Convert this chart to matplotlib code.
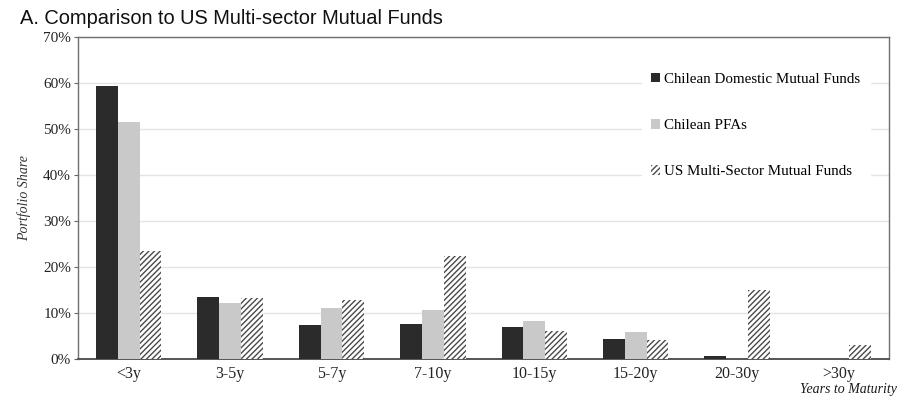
import matplotlib
matplotlib.use("Agg")
import matplotlib.pyplot as plt
import numpy as np

categories = ["<3y", "3-5y", "5-7y", "7-10y", "10-15y", "15-20y", "20-30y", ">30y"]
chilean_mf = [59.3, 13.5, 7.5, 7.6, 7.0, 4.3, 0.7, 0.0]
chilean_pfa = [51.5, 12.3, 11.1, 10.7, 8.3, 6.0, 0.0, 0.0]
us_multi = [23.6, 13.2, 12.8, 22.5, 6.2, 4.1, 15.1, 3.0]
series_names = ["Chilean Domestic Mutual Funds", "Chilean PFAs", "US Multi-Sector Mutual Funds"]
yticks = [0, 10, 20, 30, 40, 50, 60, 70]

serif = ["Liberation Serif", "DejaVu Serif"]
plt.rcParams["hatch.linewidth"] = 1.0

fig = plt.figure(figsize=(9.0, 3.99), dpi=100)
ax = fig.add_axes([0.0867, 0.100, 0.9013, 0.807])

x = np.arange(len(categories))
w = 0.215
ax.bar(x - w, chilean_mf, w, color="#2b2b2b", label=series_names[0], zorder=3)
ax.bar(x, chilean_pfa, w, color="#c9c9c9", label=series_names[1], zorder=3)
ax.bar(x + w, us_multi, w, color="white", edgecolor="#4a4a4a", linewidth=0,
       hatch="//////", label=series_names[2], zorder=3)

ax.set_xlim(-0.5, len(categories) - 0.5)
ax.set_ylim(0, 70)
ax.set_yticks(yticks)
ax.set_yticklabels([f"{t}%" for t in yticks], family=serif, fontsize=11, color="#222222")
ax.set_xticks(x)
ax.set_xticklabels(categories, family=serif, fontsize=11.5, color="#222222")
ax.tick_params(axis="x", length=0, pad=5)
ax.tick_params(axis="y", length=3, width=0.8, color="#666666", pad=2)

ax.grid(axis="y", color="#e4e4e4", linewidth=1.0, zorder=0)
ax.set_axisbelow(True)
for side in ["left", "right", "top", "bottom"]:
    ax.spines[side].set_color("#707070")
    ax.spines[side].set_linewidth(1.0)
ax.spines["bottom"].set_color("#555555")
ax.spines["bottom"].set_linewidth(1.4)

ax.set_ylabel("Portfolio Share", family=serif, style="italic", fontsize=10, color="#333333", labelpad=9)
fig.text(0.997, 0.016, "Years to Maturity", family=serif, style="italic", fontsize=10,
         color="#1a1a1a", ha="right", va="baseline")

leg = ax.legend(loc="upper right", bbox_to_anchor=(0.985, 0.94), prop={"family": serif, "size": 10.8},
                frameon=True, facecolor="white", edgecolor="white", framealpha=1.0, fancybox=False,
                handlelength=0.6, handleheight=0.6, handletextpad=0.3, labelspacing=2.2,
                borderpad=0.6)
leg.set_zorder(5)

fig.text(0.022, 0.953, "A. Comparison to US Multi-sector Mutual Funds",
         family=["Liberation Sans", "DejaVu Sans"], fontsize=14.4, color="#111111",
         ha="left", va="center")

fig.savefig("out.png", dpi=100, facecolor="white")
